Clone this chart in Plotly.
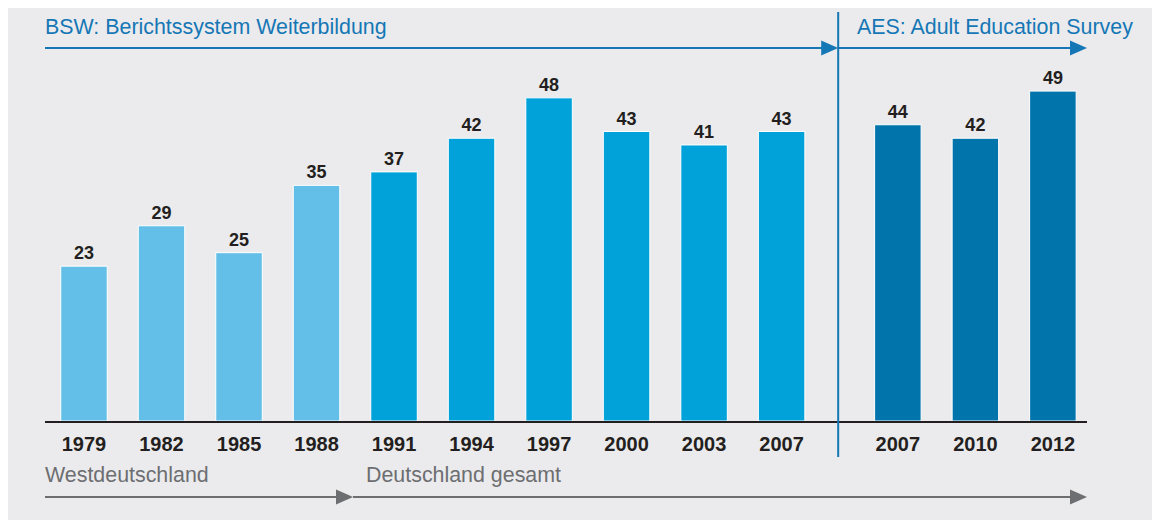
import plotly.graph_objects as go

# ---- data ----
years = ["1979", "1982", "1985", "1988", "1991", "1994", "1997", "2000", "2003", "2007", "2007", "2010", "2012"]
values = [23, 29, 25, 35, 37, 42, 48, 43, 41, 43, 44, 42, 49]
groups = ["west", "west", "west", "west", "gesamt", "gesamt", "gesamt", "gesamt", "gesamt", "gesamt", "aes", "aes", "aes"]
positions = [0, 1, 2, 3, 4, 5, 6, 7, 8, 9, 10.5, 11.5, 12.5]

group_colors = {"west": "#63bfe8", "gesamt": "#00a2d9", "aes": "#0074ab"}
BLUE = "#1577b5"
GREY = "#6d6e71"
BG = "#ebebed"

# page offset (body margin) so design coordinates are in screen pixels
OFF = 8
W, H = 1160, 520
BASE = 421            # screen y of baseline
LEFTPX, RIGHTPX = 45, 1087
TOPPX = 13
L = LEFTPX - OFF
R = W - (RIGHTPX - OFF)
T = TOPPX - OFF
B = H - (BASE - OFF)
PH = H - T - B
XR = [-0.503, 12.94]
YR = [0, 60.6]
SPX = 77.5  # px per x unit


def py(p):
    return (BASE - p) / PH


def px(p):
    return (p - 84) / SPX


fig = go.Figure()
fig.add_trace(go.Bar(
    x=positions, y=values,
    marker=dict(color=[group_colors[g] for g in groups], line=dict(color="white", width=1)),
    width=0.6,
    text=[str(v) for v in values],
    textposition="outside",
    textfont=dict(family="Liberation Sans", size=18, color="#231f20", weight="bold"),
    cliponaxis=False,
    hoverinfo="skip",
))

shapes = []


def arrow(x0, x1, y, color):
    shapes.append(dict(type="line", xref="x", yref="paper", x0=x0, x1=x1 - 0.1, y0=y, y1=y,
                       line=dict(color=color, width=2.2)))
    ln = 17 / SPX
    hh = 7.5 / PH
    path = f"M {x1} {y} L {x1 - ln} {y + hh} L {x1 - ln} {y - hh} Z"
    shapes.append(dict(type="path", xref="x", yref="paper", path=path, fillcolor=color, line=dict(width=0)))


xsplit = 9.73
arrow(XR[0], xsplit, py(48), BLUE)
arrow(xsplit, XR[1], py(48), BLUE)
shapes.append(dict(type="line", xref="x", yref="paper", x0=xsplit, x1=xsplit, y0=py(12), y1=py(457),
                   line=dict(color=BLUE, width=2)))
arrow(XR[0], px(353), py(497), GREY)
arrow(px(353), XR[1], py(497), GREY)

FS = 21.4
annotations = [
    dict(text="BSW: Berichtssystem Weiterbildung", x=XR[0], y=py(27), xref="x", yref="paper",
         xanchor="left", yanchor="middle", showarrow=False,
         font=dict(family="Liberation Sans", size=FS, color=BLUE)),
    dict(text="AES: Adult Education Survey", x=px(857), y=py(27), xref="x", yref="paper",
         xanchor="left", yanchor="middle", showarrow=False,
         font=dict(family="Liberation Sans", size=FS, color=BLUE)),
    dict(text="Westdeutschland", x=XR[0], y=py(475), xref="x", yref="paper",
         xanchor="left", yanchor="middle", showarrow=False,
         font=dict(family="Liberation Sans", size=FS, color=GREY)),
    dict(text="Deutschland gesamt", x=px(366), y=py(475), xref="x", yref="paper",
         xanchor="left", yanchor="middle", showarrow=False,
         font=dict(family="Liberation Sans", size=FS, color=GREY)),
]
for a in annotations:
    a["xshift"] = -2

fig.update_layout(
    width=W, height=H, autosize=False,
    margin=dict(l=L, r=R, t=T, b=B, pad=0),
    paper_bgcolor=BG, plot_bgcolor=BG,
    showlegend=False,
    shapes=shapes,
    annotations=annotations,
    xaxis=dict(range=XR, tickvals=positions, ticktext=years, showgrid=False, zeroline=False,
               showline=True, linecolor="#231f20", linewidth=1.5, ticks="", ticklabelstandoff=4,
               tickfont=dict(family="Liberation Sans", size=20, color="#231f20", weight="bold"),
               fixedrange=True),
    yaxis=dict(range=YR, visible=False, showgrid=False, zeroline=False, fixedrange=True),
)

fig.write_html("out.html")
